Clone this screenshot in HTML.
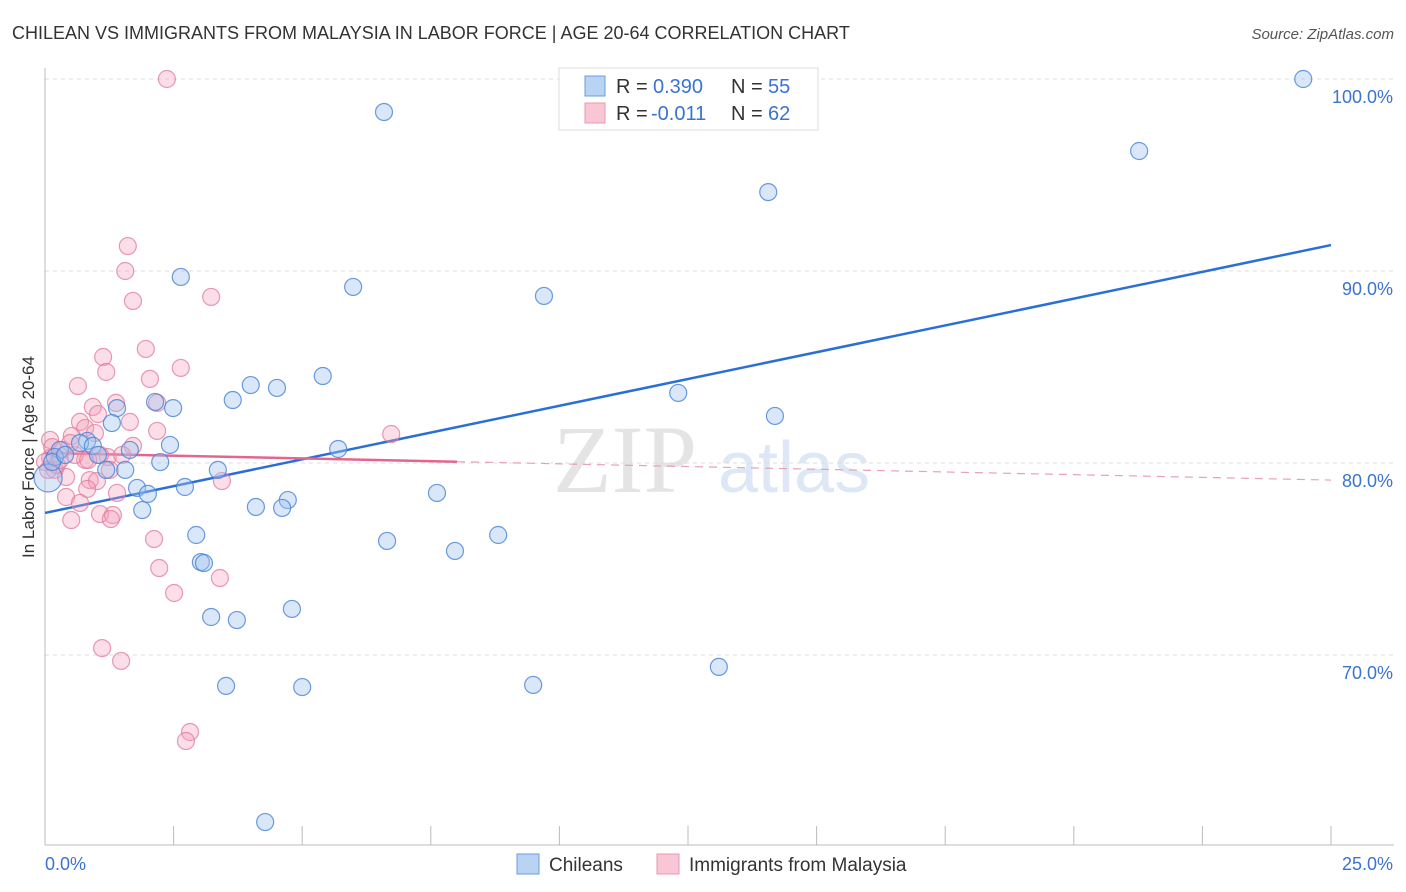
<!DOCTYPE html>
<html><head><meta charset="utf-8">
<style>
body{margin:0;background:#fff;font-family:"Liberation Sans",sans-serif;}
svg{display:block}
</style></head>
<body>
<svg id="chart" width="1406" height="892">
<text x="12" y="39" font-size="18" fill="#333">CHILEAN VS IMMIGRANTS FROM MALAYSIA IN LABOR FORCE | AGE 20-64 CORRELATION CHART</text>
<text x="1394" y="39" font-size="15" fill="#555" font-style="italic" text-anchor="end">Source: ZipAtlas.com</text>
<text x="553" y="492" font-size="96" fill="#e4e4e4" font-family="Liberation Serif,serif">ZIP</text>
<text x="718" y="492" font-size="72" fill="#dde7f5">atlas</text>
<g id="grid"></g>
<g id="axes"></g>
<g id="lines"></g>
<g id="pts"></g>
<text transform="translate(34,457) rotate(-90)" font-size="17" fill="#333" text-anchor="middle">In Labor Force | Age 20-64</text>
<g>
<rect x="559" y="68" width="259" height="62" fill="#fff" stroke="#ddd"/>
<rect x="585" y="76" width="20" height="20" fill="#b9d3f3" stroke="#6a9ee0"/>
<rect x="585" y="103" width="20" height="20" fill="#f8c6d5" stroke="#e898b2"/>
<text x="616" y="93" font-size="20" fill="#333">R =</text>
<text x="653" y="93" font-size="20" fill="#3b73d1">0.390</text>
<text x="731" y="93" font-size="20" fill="#333">N =</text>
<text x="768" y="93" font-size="20" fill="#3b73d1">55</text>
<text x="616" y="120" font-size="20" fill="#333">R =</text>
<text x="651" y="120" font-size="20" fill="#3b73d1">-0.011</text>
<text x="731" y="120" font-size="20" fill="#333">N =</text>
<text x="768" y="120" font-size="20" fill="#3b73d1">62</text>
</g>
<g>
<rect x="517" y="854" width="22" height="20" fill="#b9d3f3" stroke="#6a9ee0"/>
<text x="549" y="871" font-size="19" fill="#333">Chileans</text>
<rect x="657" y="854" width="22" height="20" fill="#f8c6d5" stroke="#e898b2"/>
<text x="689" y="871" font-size="19" fill="#333">Immigrants from Malaysia</text>
</g>
</svg>
<script>
const xTicks=[0,2.5,5,7.5,10,12.5,15,17.5,20,22.5,25];
const yTicks=[70,80,90,100];
const yTickLabels=["70.0%","80.0%","90.0%","100.0%"];
const xEndLabels=["0.0%","25.0%"];
const chileX=[24.46,6.59,21.27,14.06,2.64,5.99,9.70,5.40,4.00,4.51,12.31,3.65,2.14,2.49,1.40,14.19,1.30,2.43,0.82,0.68,0.93,1.65,5.70,1.03,0.29,0.19,2.24,1.19,1.56,3.36,1.79,2.00,2.72,7.62,4.72,4.10,4.61,1.89,6.65,2.94,8.81,7.97,3.03,3.09,4.80,3.23,3.73,13.10,3.52,5.00,9.49,4.28,0.06,0.14,0.39];
const chileY=[100.0,98.28,96.25,94.11,89.69,89.17,88.70,84.53,84.06,83.91,83.65,83.28,83.18,82.86,82.86,82.45,82.08,80.94,81.15,81.04,80.89,80.68,80.73,80.42,80.68,80.31,80.05,79.64,79.64,79.64,78.70,78.39,78.75,78.44,78.07,77.71,77.66,77.55,75.94,76.25,76.25,75.42,74.84,74.79,72.40,71.98,71.82,69.38,68.39,68.33,68.44,61.30,79.22,80.05,80.42];
const malX=[2.37,1.61,1.56,1.71,3.23,1.96,1.13,1.19,2.64,2.04,0.64,1.38,2.18,0.93,1.65,0.68,2.18,0.78,6.73,1.03,0.52,1.71,0.10,0.33,1.22,0.78,0.19,0.41,0.87,1.01,3.44,0.82,1.40,0.41,0.68,1.07,1.32,1.28,0.51,2.12,2.22,3.40,2.51,1.11,1.48,2.82,2.74,0.10,0.23,0.0,0.14,0.29,0.58,1.07,0.49,0.84,0.06,1.50,0.97,1.26];
const malY=[100.0,91.30,90.0,88.44,88.65,85.94,85.52,84.74,84.95,84.38,84.01,83.13,83.13,82.92,82.14,82.14,81.67,81.82,81.51,82.55,81.41,80.89,81.20,80.68,80.31,80.16,79.64,79.27,79.11,79.06,79.06,78.65,78.44,78.23,77.92,77.34,77.29,77.08,77.03,76.04,74.53,74.01,73.23,70.36,69.69,65.99,65.52,80.26,79.90,80.05,80.83,80.16,80.42,80.42,81.04,80.16,79.64,80.42,81.56,79.64];
const chileTrend=[77.40,91.35];
const malTrend=[80.52,79.11];
const malSolidEnd=8.01;

const NS="http://www.w3.org/2000/svg";
const X=v=>45+v/25*1286;
const Y=v=>463-(v-80)*19.2;
function mk(tag,attrs,parent){const e=document.createElementNS(NS,tag);for(const k in attrs)e.setAttribute(k,attrs[k]);parent.appendChild(e);return e;}
const grid=document.getElementById('grid'),axes=document.getElementById('axes'),lines=document.getElementById('lines'),pts=document.getElementById('pts');
yTicks.forEach((t,i)=>{
 const l=mk('line',{x1:45,x2:1394,y1:Y(t),y2:Y(t),stroke:'#ddd','stroke-dasharray':'4,4'},grid);
 
 
 const tx=mk('text',{x:1393,y:Y(t)+24,'font-size':18,fill:'#3b73d1','text-anchor':'end'},axes);
 tx.textContent=yTickLabels[i];
 
 
});
const ax=mk('line',{x1:45,x2:45,y1:68,y2:845,stroke:'#bbb'},axes);


const bx=mk('line',{x1:45,x2:1394,y1:845,y2:845,stroke:'#bbb'},axes);


xTicks.forEach(t=>{
 const l=mk('line',{x1:X(t),x2:X(t),y1:826,y2:845,stroke:'#bbb'},axes);
 
 
});
const xl0=mk('text',{x:45,y:870,'font-size':18,fill:'#3b73d1'},axes);xl0.textContent=xEndLabels[0];


const xl1=mk('text',{x:1393,y:870,'font-size':18,fill:'#3b73d1','text-anchor':'end'},axes);xl1.textContent=xEndLabels[1];



function draw(xs,ys,fill,stroke,name){
 xs.forEach((x,i)=>{
  const c=mk('circle',{cx:X(x),cy:Y(ys[i]),r:(name==='chilean-point'&&i===52)?14:8.5,fill:fill,stroke:stroke,'stroke-width':1.2},pts);
  
  
 });
}
draw(malX,malY,'rgba(244,160,185,0.35)','rgba(226,120,155,0.75)','malaysia-point');
draw(chileX,chileY,'rgba(160,195,240,0.4)','rgba(70,130,215,0.8)','chilean-point');

const bl=mk('line',{x1:X(0),y1:Y(chileTrend[0]),x2:X(25),y2:Y(chileTrend[1]),stroke:'#2a6fd6','stroke-width':2.5},lines);


const mAt=v=>malTrend[0]+(malTrend[1]-malTrend[0])*v/25;
const pl=mk('line',{x1:X(0),y1:Y(mAt(0)),x2:X(malSolidEnd),y2:Y(mAt(malSolidEnd)),stroke:'#e2678f','stroke-width':2.5},lines);


const pd=mk('line',{x1:X(malSolidEnd),y1:Y(mAt(malSolidEnd)),x2:X(25),y2:Y(mAt(25)),stroke:'#e8a0b8','stroke-width':1.2,'stroke-dasharray':'8,6'},lines);


</script>
</body></html>
